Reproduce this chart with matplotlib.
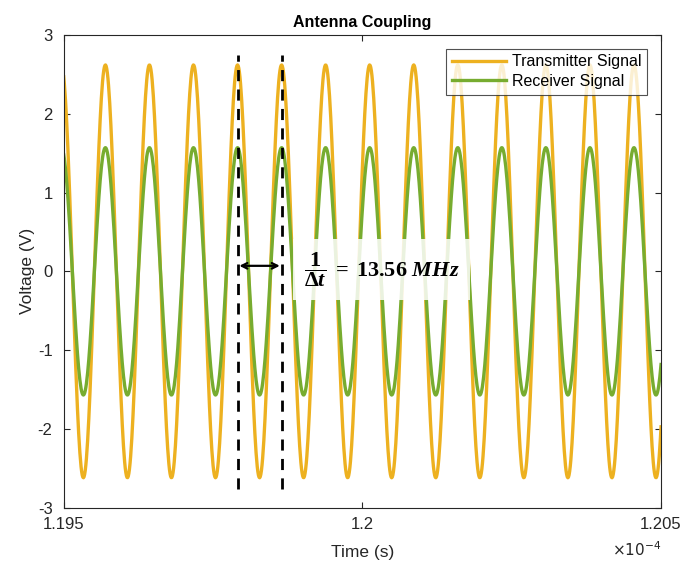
import numpy as np
import matplotlib
matplotlib.use("Agg")
import matplotlib.pyplot as plt

# signal parameters
freq_hz = 13.56e6
tx_amplitude = 2.62
rx_amplitude = 1.57
first_peak_s = 1.19496e-4
t_start, t_end = 1.195e-4, 1.205e-4
sample_step_s = 1e-9

# markers for one period
marker_t = [1.19791e-4, 1.19791e-4 + 1 / freq_hz]
marker_y = [-2.76, 2.75]

x_ticks = [1.195e-4, 1.2e-4, 1.205e-4]
x_tick_labels = ["1.195", "1.2", "1.205"]
y_ticks = [-3, -2, -1, 0, 1, 2, 3]

TX_COLOR = "#EDB120"
RX_COLOR = "#77AC30"

plt.rcParams["font.family"] = ["Liberation Sans", "DejaVu Sans"]
plt.rcParams["axes.unicode_minus"] = False
plt.rcParams["mathtext.fontset"] = "custom"
plt.rcParams["mathtext.rm"] = "Liberation Serif:bold"
plt.rcParams["mathtext.it"] = "Liberation Serif:bold:italic"
plt.rcParams["mathtext.bf"] = "Liberation Serif:bold"

t = np.arange(t_start, t_end + sample_step_s / 2, sample_step_s)
phase = 2 * np.pi * freq_hz * (t - first_peak_s)
tx = tx_amplitude * np.cos(phase)
rx = rx_amplitude * np.cos(phase)

fig = plt.figure(figsize=(6.86, 5.67), dpi=100)
ax = fig.add_axes([0.0929, 0.1046, 0.8707, 0.8337])

ax.plot(t, tx, color=TX_COLOR, linewidth=2.4, label="Transmitter Signal")
ax.plot(t, rx, color=RX_COLOR, linewidth=2.4, label="Receiver Signal")

for mt in marker_t:
    ax.plot([mt, mt], marker_y, color="black", linestyle=(0, (4, 3)), linewidth=2)

ax.annotate("", xy=(marker_t[0] + 3e-9, 0.07), xytext=(marker_t[1] - 3e-9, 0.07),
            arrowprops=dict(arrowstyle="<->", color="black", lw=1.6,
                            shrinkA=0, shrinkB=0, mutation_scale=10))

ax.text(1.195e-4 + 0.532e-6, 0.02, r"$\dfrac{1}{\Delta t}\;=\;13.56\ MHz$",
        fontsize=16, ha="center", va="center",
        bbox=dict(facecolor="white", edgecolor="none", alpha=0.85, pad=8))

ax.set_xlim(t_start, t_end)
ax.set_ylim(-3, 3)
ax.set_xticks(x_ticks)
ax.set_xticklabels(x_tick_labels)
ax.set_yticks(y_ticks)
ax.tick_params(direction="in", top=True, right=True, labelsize=12,
               colors="#262626", length=4, width=0.8)
ax.tick_params(axis="x", pad=7)
ax.tick_params(axis="y", pad=8)
for s in ax.spines.values():
    s.set_color("#262626")
    s.set_linewidth(0.8)

ax.set_title("Antenna Coupling", fontsize=11.5, fontweight="bold", pad=6)
ax.set_xlabel("Time (s)", fontsize=12.5, color="#262626", labelpad=9)
ax.set_ylabel("Voltage (V)", fontsize=12.5, color="#262626", labelpad=2)
ax.text(1.0, -0.068, r"$\times10^{-4}$", transform=ax.transAxes,
        fontsize=11, ha="right", va="top", color="#262626",
        math_fontfamily="dejavusans")

leg = ax.legend(loc="upper right", fontsize=11.5, frameon=True, fancybox=False,
                borderaxespad=0.85, handlelength=3.4, handletextpad=0.4,
                borderpad=0.35, labelspacing=0.3)
leg.get_frame().set_edgecolor("#262626")
leg.get_frame().set_linewidth(0.8)

fig.savefig("out.png", dpi=100)
